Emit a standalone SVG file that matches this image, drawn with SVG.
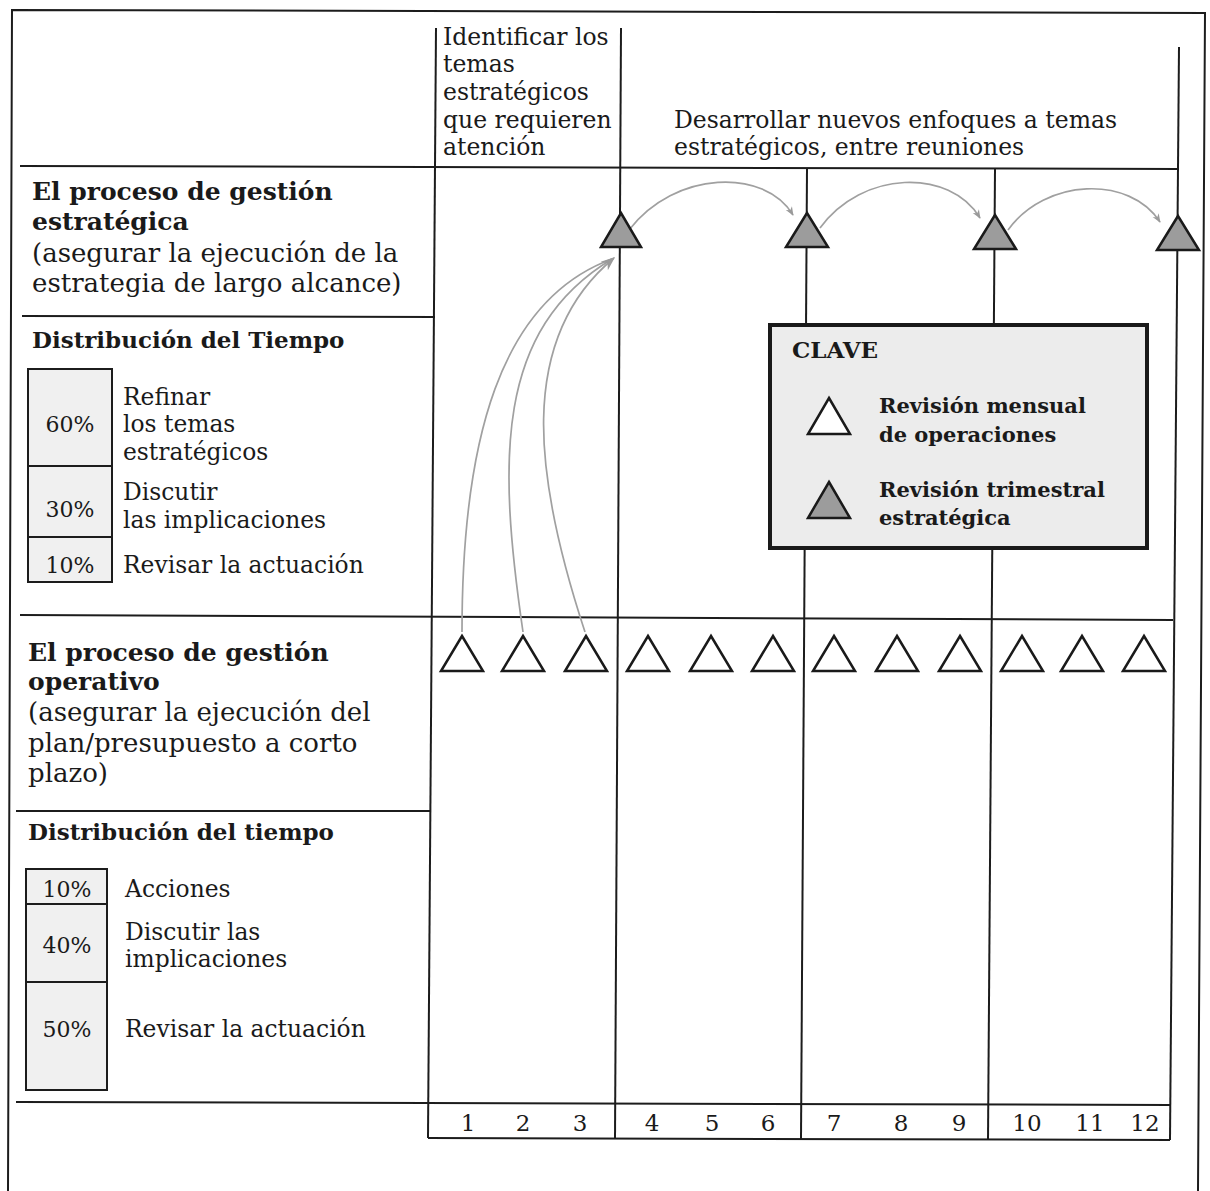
<svg xmlns="http://www.w3.org/2000/svg" width="1210" height="1191" viewBox="0 0 1210 1191">
<style>
  .ln{stroke:#1c1c1c;stroke-width:2;fill:none}
  .t{font-family:"DejaVu Serif","Liberation Serif",serif;fill:#1a1a1a}
  .hb{font-size:25px;font-weight:bold}
  .hb2{font-size:23px;font-weight:bold}
  .bd{font-size:26px}
  .hd{font-size:23.5px}
  .ds{font-size:23.4px}
  .pc{font-size:22px;text-anchor:middle}
  .kb{font-size:21px;font-weight:bold}
  .kc{font-size:23px;font-weight:bold}
  .nm{font-size:23px;text-anchor:middle}
  .st{fill:#9c9c9c;stroke:#1a1a1a;stroke-width:2.5;stroke-linejoin:miter}
  .mt{fill:#ffffff;stroke:#1a1a1a;stroke-width:2.5;stroke-linejoin:miter}
  .pbox{fill:#f0f0f0;stroke:#1c1c1c;stroke-width:2}
  .arc{fill:none;stroke:#a0a0a0;stroke-width:1.7}
</style>
<defs>
  <marker id="ah" viewBox="0 0 10 10" refX="9" refY="5" markerWidth="9" markerHeight="9" markerUnits="userSpaceOnUse" orient="auto">
    <path d="M0,1 L10,5 L0,9 L3,5 Z" fill="#9a9a9a"/>
  </marker>
  <marker id="ah2" viewBox="0 0 10 10" refX="9" refY="5" markerWidth="14" markerHeight="14" markerUnits="userSpaceOnUse" orient="auto">
    <path d="M0,1 L10,5 L0,9 L3,5 Z" fill="#9a9a9a"/>
  </marker>
</defs>
<rect x="0" y="0" width="1210" height="1191" fill="#ffffff"/>

<g id="frame">
  <path class="ln" d="M8,1191 L12,10 L1205,13 L1198,1191"/>
  <path class="ln" d="M20,166 L1179,169"/>
  <path class="ln" d="M22,316 L435,317"/>
  <path class="ln" d="M20,615 L1173,620"/>
  <path class="ln" d="M16,811 L430,811"/>
  <path class="ln" d="M16,1102 L1170,1105"/>
  <path class="ln" d="M428,1138 L1170,1140"/>
  <path class="ln" d="M436,28 L428,1138"/>
  <path class="ln" d="M621,28 L615,1139"/>
  <path class="ln" d="M807,168 L801,1139"/>
  <path class="ln" d="M995,169 L988,1140"/>
  <path class="ln" d="M1179,47 L1170,1140"/>
</g>

<g id="header-identificar">
  <text class="t hd" x="443" y="45">Identificar los</text>
  <text class="t hd" x="443" y="72">temas</text>
  <text class="t hd" x="443" y="100">estratégicos</text>
  <text class="t hd" x="443" y="128">que requieren</text>
  <text class="t hd" x="443" y="155">atención</text>
</g>
<g id="header-desarrollar">
  <text class="t hd" x="674" y="128">Desarrollar nuevos enfoques a temas</text>
  <text class="t hd" x="674" y="155">estratégicos, entre reuniones</text>
</g>

<g id="label-estrategica">
  <text class="t hb" x="32" y="200">El proceso de gestión</text>
  <text class="t hb" x="32" y="230">estratégica</text>
  <text class="t bd" x="32" y="262">(asegurar la ejecución de la</text>
  <text class="t bd" x="32" y="292">estrategia de largo alcance)</text>
</g>

<g id="dist-estrategica">
  <text class="t hb2" x="32" y="348">Distribución del Tiempo</text>
  <rect class="pbox" x="28" y="369" width="84" height="213"/>
  <path class="ln" d="M28,466 L112,466 M28,537 L112,537"/>
  <text class="t pc" x="70" y="432">60%</text>
  <text class="t pc" x="70" y="517">30%</text>
  <text class="t pc" x="70" y="573">10%</text>
  <text class="t ds" x="123" y="405">Refinar</text>
  <text class="t ds" x="123" y="432">los temas</text>
  <text class="t ds" x="123" y="460">estratégicos</text>
  <text class="t ds" x="123" y="500">Discutir</text>
  <text class="t ds" x="123" y="528">las implicaciones</text>
  <text class="t ds" x="123" y="573">Revisar la actuación</text>
</g>

<g id="label-operativo">
  <text class="t hb" x="28" y="661">El proceso de gestión</text>
  <text class="t hb" x="28" y="690">operativo</text>
  <text class="t bd" x="28" y="721">(asegurar la ejecución del</text>
  <text class="t bd" x="28" y="752">plan/presupuesto a corto</text>
  <text class="t bd" x="28" y="782">plazo)</text>
</g>

<g id="dist-operativo">
  <text class="t hb2" x="28" y="840">Distribución del tiempo</text>
  <rect class="pbox" x="26" y="869" width="81" height="221"/>
  <path class="ln" d="M26,904 L107,904 M26,982 L107,982"/>
  <text class="t pc" x="67" y="897">10%</text>
  <text class="t pc" x="67" y="953">40%</text>
  <text class="t pc" x="67" y="1037">50%</text>
  <text class="t ds" x="125" y="897">Acciones</text>
  <text class="t ds" x="125" y="940">Discutir las</text>
  <text class="t ds" x="125" y="967">implicaciones</text>
  <text class="t ds" x="125" y="1037">Revisar la actuación</text>
</g>

<g id="connectors">
  <path class="arc" marker-end="url(#ah)" d="M629,230 C675,170 765,168 793,215"/>
  <path class="arc" marker-end="url(#ah)" d="M820,228 C862,170 950,168 980,218"/>
  <path class="arc" marker-end="url(#ah)" d="M1008,230 C1045,178 1130,175 1160,222"/>
  <path class="arc" d="M462,632 C462,440 500,300 612,259"/>
  <path class="arc" d="M523,632 C498,460 495,330 612,259"/>
  <path class="arc" marker-end="url(#ah2)" d="M585,632 C535,480 515,340 614,258"/>
</g>

<g id="strategic-reviews">
  <path class="st" d="M621,213 L641,247 L601,247 Z"/>
  <path class="st" d="M807,213 L828,247 L786,247 Z"/>
  <path class="st" d="M995,215 L1016,249 L974,249 Z"/>
  <path class="st" d="M1178,216 L1199,250 L1157,250 Z"/>
</g>

<g id="monthly-reviews">
  <path class="mt" d="M462,636 L483,671 L441,671 Z"/>
  <path class="mt" d="M523,636 L544,671 L502,671 Z"/>
  <path class="mt" d="M586,636 L607,671 L565,671 Z"/>
  <path class="mt" d="M648,636 L669,671 L627,671 Z"/>
  <path class="mt" d="M711,636 L732,671 L690,671 Z"/>
  <path class="mt" d="M773,636 L794,671 L752,671 Z"/>
  <path class="mt" d="M834,636 L855,671 L813,671 Z"/>
  <path class="mt" d="M897,636 L918,671 L876,671 Z"/>
  <path class="mt" d="M960,636 L981,671 L939,671 Z"/>
  <path class="mt" d="M1022,636 L1043,671 L1001,671 Z"/>
  <path class="mt" d="M1082,636 L1103,671 L1061,671 Z"/>
  <path class="mt" d="M1144,636 L1165,671 L1123,671 Z"/>
</g>

<g id="key">
  <rect x="770" y="325" width="377" height="223" fill="#ececec" stroke="#1a1a1a" stroke-width="4"/>
  <text class="t kc" x="792" y="358">CLAVE</text>
  <path class="mt" d="M829,398 L850,434 L808,434 Z"/>
  <text class="t kb" x="879" y="413">Revisión mensual</text>
  <text class="t kb" x="879" y="442">de operaciones</text>
  <path class="st" d="M829,482 L850,518 L808,518 Z"/>
  <text class="t kb" x="879" y="497">Revisión trimestral</text>
  <text class="t kb" x="879" y="525">estratégica</text>
</g>

<g id="months">
  <text class="t nm" x="468" y="1131">1</text>
  <text class="t nm" x="523" y="1131">2</text>
  <text class="t nm" x="580" y="1131">3</text>
  <text class="t nm" x="652" y="1131">4</text>
  <text class="t nm" x="712" y="1131">5</text>
  <text class="t nm" x="768" y="1131">6</text>
  <text class="t nm" x="834" y="1131">7</text>
  <text class="t nm" x="901" y="1131">8</text>
  <text class="t nm" x="959" y="1131">9</text>
  <text class="t nm" x="1027" y="1131">10</text>
  <text class="t nm" x="1090" y="1131">11</text>
  <text class="t nm" x="1145" y="1131">12</text>
</g>
</svg>
